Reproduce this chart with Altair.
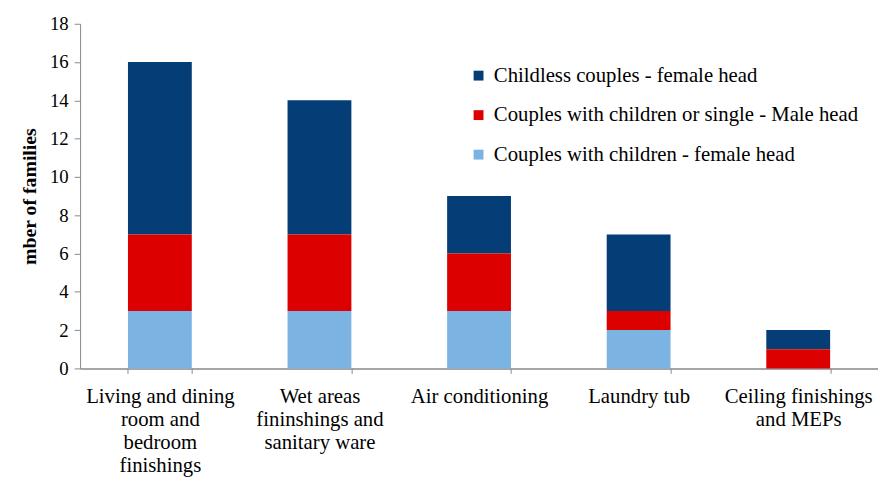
import altair as alt
import pandas as pd

categories = [
    "Living and dining\nroom and\nbedroom\nfinishings",
    "Wet areas\nfininshings and\nsanitary ware",
    "Air conditioning",
    "Laundry tub",
    "Ceiling finishings\nand MEPs",
]
series = [
    "Childless couples - female head",
    "Couples with children or single - Male head",
    "Couples with children - female head",
]
childless_female = [9, 7, 3, 4, 1]
children_male = [4, 4, 3, 1, 1]
children_female = [3, 3, 3, 2, 0]
colors = ["#053d76", "#dc0000", "#7bb4e3"]
stack_rank = [2, 1, 0]

rows = []
for vals, s, r in zip([childless_female, children_male, children_female], series, stack_rank):
    for c, v in zip(categories, vals):
        rows.append({"category": c, "series": s, "value": v, "rank": r})
df = pd.DataFrame(rows)

font = "Liberation Serif"

chart = alt.Chart(df).mark_bar(stroke=None).encode(
    x=alt.X(
        "category:N",
        sort=categories,
        title=None,
        scale=alt.Scale(paddingInner=0.6, paddingOuter=0.3),
        axis=alt.Axis(
            labelAngle=0,
            labelExpr="split(datum.label, '\\n')",
            labelFont=font,
            labelFontSize=21,
            labelColor="#000",
            labelLineHeight=23,
            labelPadding=13,
            labelBaseline="top",
            tickBand="extent",
            tickSize=5,
            tickColor="#888",
            domainColor="#888",
            domainWidth=1.5,
        ),
    ),
    y=alt.Y(
        "value:Q",
        stack="zero",
        title="mber of families",
        scale=alt.Scale(domain=[0, 18]),
        axis=alt.Axis(
            values=list(range(0, 19, 2)),
            grid=False,
            labelFont=font,
            labelFontSize=19,
            labelColor="#000",
            labelPadding=6,
            tickSize=6,
            tickColor="#888",
            domainColor="#888",
            titleFont=font,
            titleFontSize=20,
            titleFontWeight="bold",
            titleColor="#000",
            titlePadding=10,
        ),
    ),
    color=alt.Color(
        "series:N",
        scale=alt.Scale(domain=series, range=colors),
        legend=alt.Legend(
            title=None,
            orient="none",
            legendX=393,
            legendY=42,
            symbolType="square",
            symbolSize=100,
            symbolStrokeWidth=0,
            labelFont=font,
            labelFontSize=21,
            labelColor="#000",
            rowPadding=18,
            labelOffset=5,
            labelLimit=500,
        ),
    ),
    order=alt.Order("rank:Q", sort="ascending"),
).properties(
    width=808,
    height=349,
    padding={"left": 12, "top": 4, "right": 0, "bottom": 0},
).configure_view(stroke=None)

chart.save("out.html", embed_options={"renderer": "svg", "actions": False})
